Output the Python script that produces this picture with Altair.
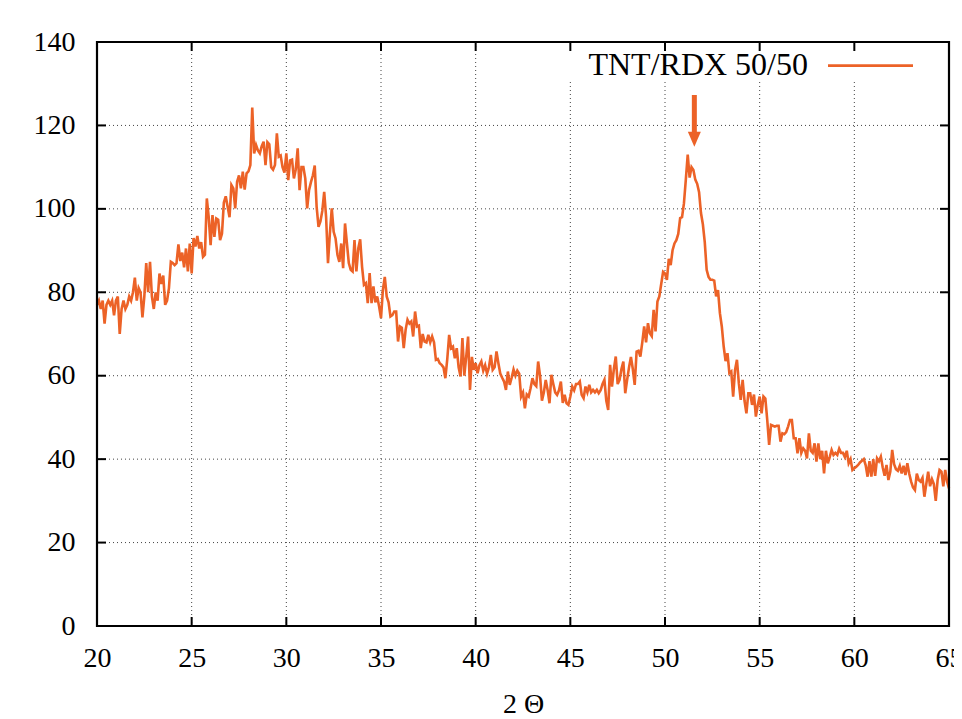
import altair as alt
import numpy as np
import pandas as pd

# Intensity readings, 2Θ from 20.0 to 65.0 in steps of 0.1
intensity = [
    77, 78, 76, 78, 72.5, 77, 78, 77, 78, 74.5,
    78, 79, 70, 76, 78, 76, 77, 79, 78, 80,
    83.5, 78, 81, 80, 74, 79, 87, 80, 87.3, 79,
    76, 80, 78, 84.5, 82, 84, 77, 78, 81, 87.3,
    87, 86.5, 87, 91.5, 87.5, 89.5, 86, 90.5, 85, 91.7,
    84.5, 93, 91, 93.5, 90.5, 92, 88.5, 89, 102.5, 98,
    91.3, 98.5, 93.3, 97.7, 97.4, 92.5, 94, 101.5, 103, 100.5,
    98, 105.7, 104.9, 100.1, 106.5, 108, 104.9, 108.9, 104.6, 108.5,
    109, 110.5, 124.3, 113.3, 115.3, 114, 113.3, 115, 116.1, 110.5,
    116, 115.5, 110, 109.4, 110.5, 118.1, 112.5, 112.8, 110, 108.7,
    113.3, 106.9, 111.6, 111.8, 107.3, 109.5, 114.5, 104.5, 110, 110,
    107.3, 100.1, 104.5, 106.4, 108, 110.4, 100.5, 95.7, 97, 99.5,
    104.1, 98.1, 87, 94.1, 100.1, 94.5, 92.9, 89, 87.3, 91.7,
    85.8, 96.5, 91.7, 87, 85.4, 85, 92.5, 85, 90.5, 92.7,
    86.1, 81.8, 82.2, 77.4, 84.6, 77.4, 81.4, 77.6, 79, 76.6,
    73.8, 80.6, 83.7, 79, 77.6, 74.2, 74.5, 75.4, 75.4, 68.2,
    71.8, 71.5, 66.6, 71, 73.4, 72.5, 73, 69.4, 75.4, 71.8,
    72, 66.6, 70, 68.2, 68, 69.8, 68, 69.4, 68, 63.8,
    64, 63, 62.6, 62, 59.4, 64, 69.8, 66.6, 67, 64.2,
    66.6, 62, 59.8, 69, 60, 64.5, 69.4, 56.6, 64.5, 61.4,
    63, 60.6, 62.5, 63.4, 61.2, 62.5, 60.5, 62, 65, 61.4,
    62, 65.8, 63, 60.5, 59.5, 58.6, 56.6, 61, 57.8, 59.5,
    61.5, 60, 61.2, 60.5, 55, 56, 52.2, 55.5, 55, 57,
    59.4, 58, 57.5, 63.4, 60, 54, 56, 59, 56.6, 53.4,
    60.2, 58, 56, 55.4, 56.5, 58.6, 53.5, 55.4, 53.4, 53,
    55, 57.4, 56.5, 58, 58, 58.6, 55.4, 54.6, 57.4, 56,
    57.8, 56, 56.6, 56, 56.6, 55.8, 56.5, 58, 59, 54,
    51.8, 62.6, 57.4, 61.6, 64.6, 58, 59, 61.6, 63.4, 55.8,
    59, 62, 64.5, 61.6, 57.8, 65.8, 66, 64.6, 68, 71.8,
    68, 72.6, 70.2, 69.5, 75.8, 70.6, 77.8, 79, 82, 84.9,
    84.5, 83, 88, 86.5, 90.1, 91.7, 92.5, 94, 97.8, 98,
    101.3, 107, 113, 107.5, 110, 109.3, 107, 106, 104, 99,
    96.3, 92, 85.4, 83.7, 83, 83, 82.8, 79, 80.5, 75,
    71.8, 67, 63.5, 65.4, 60.6, 61, 55, 61.4, 63.8, 58.2,
    54.2, 59, 54, 51, 55.8, 55.8, 53, 55.5, 50.2, 53,
    55, 51, 55, 54.5, 49.4, 43.4, 48.2, 48, 47.8, 48,
    48, 44.2, 46.2, 46, 46.5, 47.8, 49.4, 49.4, 45, 45,
    41.4, 45, 41.5, 42.6, 42, 40.2, 46.2, 42, 41.5, 43.8,
    39.4, 43.8, 40, 42, 36.6, 42, 39, 40.5, 42.2, 41,
    41.5, 41, 42.5, 41.5, 41.5, 40.5, 42, 39, 40, 37.4,
    37.8, 38.2, 38.6, 39.2, 39.6, 40, 38.5, 35.8, 39.5, 35.8,
    40, 36, 40.2, 39.5, 40.6, 38, 36, 38.6, 35, 37,
    42.2, 38.8, 37.6, 37.2, 38.4, 36.6, 38.4, 36.2, 39, 36.5,
    34.6, 33.2, 32.6, 36.5, 35, 34.6, 35.5, 31, 34, 37,
    33.5, 35.2, 34, 30, 35, 37.4, 37, 33.5, 37.4, 34.6,
    33,
]
two_theta = np.round(20.0 + 0.1 * np.arange(len(intensity)), 1)

x_ticks = [20, 25, 30, 35, 40, 45, 50, 55, 60, 65]
y_ticks = [0, 20, 40, 60, 80, 100, 120, 140]
x_grid = [25, 30, 35, 40, 45, 50, 55, 60]
y_grid = [20, 40, 60, 80, 100, 120]

legend_label = "TNT/RDX 50/50"
arrow_x = [51.55]
arrow_top = [127.3]
arrow_base = [118.3]
arrow_head = [116.7]

ORANGE = "#ec6227"
FONT = "Liberation Serif"
W, H = 852, 584

df = pd.DataFrame({"two_theta": two_theta, "intensity": intensity})
xs = alt.Scale(domain=[20, 65], nice=False, zero=False)
ys = alt.Scale(domain=[0, 140], nice=False, zero=False)

line = alt.Chart(df).mark_line(color=ORANGE, strokeWidth=2.6).encode(
    x=alt.X("two_theta:Q", scale=xs,
            axis=alt.Axis(values=x_ticks, title="2 Θ", grid=False, ticks=False,
                          tickSize=0, domain=False, labelPadding=18,
                          labelFont=FONT, labelFontSize=28, labelColor="black",
                          titleFont=FONT, titleFontSize=28, titleFontWeight="normal",
                          titleColor="black", titlePadding=18, labelFlush=False,
                          format="d")),
    y=alt.Y("intensity:Q", scale=ys,
            axis=alt.Axis(values=y_ticks, title=None, grid=False, ticks=False,
                          tickSize=0, domain=False, labelPadding=22,
                          labelFont=FONT, labelFontSize=28, labelColor="black",
                          labelFlush=False, format="d")),
)

grid_style = dict(color="#444", strokeWidth=1, strokeDash=[1, 3])
gx = alt.Chart(pd.DataFrame({"v": x_grid})).mark_rule(**grid_style).encode(
    x=alt.X("v:Q", scale=xs), y=alt.value(0), y2=alt.value(H))
gy = alt.Chart(pd.DataFrame({"v": y_grid})).mark_rule(**grid_style).encode(
    y=alt.Y("v:Q", scale=ys), x=alt.value(0), x2=alt.value(W))

key_box = alt.Chart(pd.DataFrame({"k": [0]})).mark_rect(color="white").encode(
    x=alt.value(465), x2=alt.value(W - 1), y=alt.value(1), y2=alt.value(40))

tdf = pd.DataFrame({"v": x_ticks})
vdf = pd.DataFrame({"v": y_ticks})
tick_style = dict(color="black", strokeWidth=2)
tb = alt.Chart(tdf).mark_rule(**tick_style).encode(
    x=alt.X("v:Q", scale=xs), y=alt.value(H), y2=alt.value(H - 9))
tt = alt.Chart(tdf).mark_rule(**tick_style).encode(
    x=alt.X("v:Q", scale=xs), y=alt.value(0), y2=alt.value(9))
tl = alt.Chart(vdf).mark_rule(**tick_style).encode(
    y=alt.Y("v:Q", scale=ys), x=alt.value(0), x2=alt.value(9))
tr = alt.Chart(vdf).mark_rule(**tick_style).encode(
    y=alt.Y("v:Q", scale=ys), x=alt.value(W - 9), x2=alt.value(W))

frame = alt.Chart(pd.DataFrame({"k": [0]})).mark_rect(
    fillOpacity=0, stroke="black", strokeWidth=2.2).encode(
    x=alt.value(0), x2=alt.value(W), y=alt.value(0), y2=alt.value(H))

key_text = alt.Chart(pd.DataFrame({"k": [0]})).mark_text(
    align="right", baseline="alphabetic", font=FONT, fontSize=32, color="black").encode(
    x=alt.value(711), y=alt.value(32.5), text=alt.value(legend_label))
key_line = alt.Chart(pd.DataFrame({"k": [0]})).mark_rule(
    color=ORANGE, strokeWidth=2.7).encode(
    x=alt.value(731), x2=alt.value(816), y=alt.value(23.7))

adf = pd.DataFrame({"x": arrow_x, "top": arrow_top, "base": arrow_base, "head": arrow_head})
shaft = alt.Chart(adf).mark_rule(color=ORANGE, strokeWidth=5).encode(
    x=alt.X("x:Q", scale=xs), y=alt.Y("top:Q", scale=ys), y2="base:Q")
head = alt.Chart(adf).mark_point(
    shape="M-0.87,-1L0.87,-1L0,1Z", filled=True, size=225, color=ORANGE,
    opacity=1, strokeWidth=0).encode(
    x=alt.X("x:Q", scale=xs), y=alt.Y("head:Q", scale=ys))

chart = alt.layer(
    gx, gy, key_box, line, tb, tt, tl, tr, frame, key_text, key_line, shaft, head
).properties(
    width=W, height=H,
    padding={"left": 89, "top": 34, "right": 5, "bottom": 96},
    autosize=alt.AutoSizeParams(type="none"),
).configure_view(stroke=None).configure(background="white")

chart.save("out.html", embed_options={"renderer": "svg", "actions": False})
